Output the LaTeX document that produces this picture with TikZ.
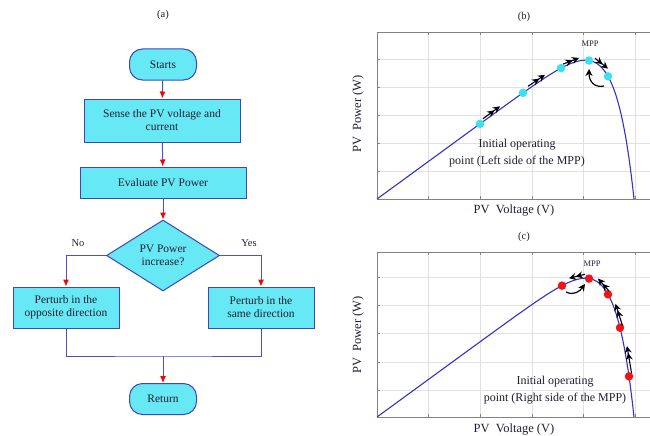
\documentclass[tikz,border=0pt]{standalone}
\usepackage{fontspec}
\setmainfont{Liberation Serif}
\usetikzlibrary{arrows.meta,shapes.geometric}
\definecolor{boxfill}{RGB}{102,232,245}
\definecolor{boxline}{RGB}{60,70,190}
\definecolor{flowline}{RGB}{80,80,200}
\definecolor{curveblue}{RGB}{50,50,200}
\definecolor{gridgray}{RGB}{225,225,225}
\definecolor{framegray}{RGB}{130,130,130}
\definecolor{dotcyan}{RGB}{60,225,240}
\definecolor{dotred}{RGB}{240,20,20}
\definecolor{txt}{RGB}{30,30,50}
\tikzset{
  procbox/.style={draw=boxline, line width=1pt, fill=boxfill, rectangle, align=center, text=txt, font=\fontsize{11.5}{13}\selectfont, inner sep=2pt},
  termbox/.style={draw=boxline, line width=1pt, fill=boxfill, rounded corners=13pt, minimum width=67pt, minimum height=31pt, text=txt, font=\fontsize{11.5}{13}\selectfont},
  decbox/.style={draw=boxline, line width=1pt, fill=boxfill, diamond, minimum width=113pt, minimum height=71pt, inner sep=0pt, align=center, text=txt, font=\fontsize{11.5}{13}\selectfont},
  flow/.style={draw=flowline, line width=1pt, -{Latex[length=7pt,width=6pt,color=red]}},
  flowplain/.style={draw=flowline, line width=1pt},
  lbl/.style={text=txt, font=\fontsize{10.5}{12}\selectfont},
  axlbl/.style={text=txt, font=\fontsize{12.5}{14}\selectfont},
  note/.style={text=txt, font=\fontsize{12}{17}\selectfont, align=center},
  mpp/.style={text=txt, font=\fontsize{8.5}{9}\selectfont},
  gridl/.style={draw=gridgray, line width=0.6pt},
  frame/.style={draw=framegray, line width=0.8pt},
  pvcurve/.style={draw=curveblue, line width=1.1pt},
  cdot/.style={circle, fill=dotcyan, inner sep=0pt, minimum size=8.5pt},
  rdot/.style={circle, fill=dotred, inner sep=0pt, minimum size=8.5pt},
  dbl/.style={draw=black, line width=1.1pt, -{Stealth[length=7pt,width=7pt]Stealth[length=7pt,width=7pt]}},
  curv/.style={draw=black, line width=1.2pt, -{Stealth[length=7pt,width=7pt]}},
  declare function={pv(\v)=0.73*\v*(1-exp((\v-257)/20));}
}
\begin{document}
\begin{tikzpicture}[x=1pt,y=-1pt]
\useasboundingbox (0,0) rectangle (650,436);
% ---------------- (a) flowchart ----------------
\node[lbl] (ta) at (163,15) {(a)};
\node[termbox] (start) at (163,64.5) {Starts};
\node[procbox, minimum width=156pt, minimum height=43pt] (sense) at (162,120.5) {Sense the PV voltage and\\current};
\node[procbox, minimum width=166pt, minimum height=31pt] (eval) at (163,182.5) {Evaluate PV Power};
\node[decbox] (dec) at (163,255.5) {PV Power\\increase?};
\node[procbox, minimum width=106pt, minimum height=41pt] (left) at (66,307.5) {Perturb in the\\opposite direction};
\node[procbox, minimum width=106pt, minimum height=41pt] (right) at (261,307.5) {Perturb in the\\same direction};
\node[termbox] (ret) at (163,399) {Return};
\node[lbl] (no) at (78,243) {No};
\node[lbl] (yes) at (249,243) {Yes};
\coordinate (merge) at (163,356);
\draw[flow] (start) -- (sense);
\draw[flow] (sense) -- (eval);
\draw[flow] (eval) -- (dec);
\draw[flow] (dec.west) -| (left.north);
\draw[flow] (dec.east) -| (right.north);
\draw[flowplain] (left.south) |- (merge) -| (right.south);
\draw[flow] (merge) -- (ret);
% ---------------- (b) plot ----------------
\node[lbl] (tb) at (524,17) {(b)};
\begin{scope}
\clip (370,20) rectangle (650,205);
\foreach \gx in {428,480,532,583,635} \draw[gridl] (\gx,32) -- (\gx,199);
\foreach \gy in {59,87,115,143,171} \draw[gridl] (377,\gy) -- (650,\gy);
\draw[frame] (650,32) -- (377,32) -- (377,199) -- (650,199);
\foreach \gx in {428,480,532,583,635} {\draw[frame] (\gx,32) -- (\gx,35); \draw[frame] (\gx,199) -- (\gx,196);}
\foreach \gy in {59,87,115,143,171} \draw[frame] (377,\gy) -- (380,\gy);
\draw[pvcurve] plot[domain=0:257, samples=160] ({377+\x},{199-pv(\x)});
\end{scope}
\node[cdot] (b1) at ({377+103},{199-pv(103)}) {};
\node[cdot] (b2) at ({377+146},{199-pv(146)}) {};
\node[cdot] (b3) at ({377+184},{199-pv(184)}) {};
\node[cdot] (b4) at ({377+212},{199-pv(212)}) {};
\node[cdot] (b5) at ({377+231},{199-pv(231)}) {};
\draw[dbl] ({377+106},{199-pv(106)-3}) -- ({377+123},{199-pv(123)-3});
\draw[dbl] ({377+151},{199-pv(151)-3}) -- ({377+168},{199-pv(168)-3});
\draw[dbl] ({377+186},{199-pv(186)-3}) -- ({377+202},{199-pv(202)-3});
\draw[dbl] ({377+215+3},{199-pv(215)-3}) -- ({377+228+3},{199-pv(228)-3});
\draw[curv] (604,86) .. controls (595,88) and (589,82) .. (589,69);
\node[mpp] (mppb) at (590,44) {MPP};
\node[note] (initb) at (517,153) {Initial operating\\point (Left side of the MPP)};
\node[axlbl, rotate=90] (ylb) at (358,114) {PV\ \ Power (W)};
\node[axlbl] (xlb) at (514,211) {PV\ \ Voltage (V)};
% ---------------- (c) plot ----------------
\node[lbl] (tc) at (524,237) {(c)};
\begin{scope}
\clip (370,240) rectangle (650,423);
\foreach \gx in {428,480,532,583,635} \draw[gridl] (\gx,252) -- (\gx,417);
\foreach \gy in {277,305,333,362,390} \draw[gridl] (377,\gy) -- (650,\gy);
\draw[frame] (650,252) -- (377,252) -- (377,417) -- (650,417);
\foreach \gx in {428,480,532,583,635} {\draw[frame] (\gx,252) -- (\gx,255); \draw[frame] (\gx,417) -- (\gx,414);}
\foreach \gy in {277,305,333,362,390} \draw[frame] (377,\gy) -- (380,\gy);
\draw[pvcurve] plot[domain=0:257, samples=160] ({377+\x},{417-pv(\x)});
\end{scope}
\node[rdot] (c1) at ({377+185},{417-pv(185)}) {};
\node[rdot] (c2) at ({377+212},{417-pv(212)}) {};
\node[rdot] (c3) at ({377+231},{417-pv(231)}) {};
\node[rdot] (c4) at ({377+243},{417-pv(243)}) {};
\node[rdot] (c5) at ({377+252},{417-pv(252)}) {};
\draw[dbl] ({377+208},{417-pv(208)-4}) -- ({377+192},{417-pv(192)-4});
\draw[curv] (566,292) .. controls (574,296) and (580,291) .. (585,284);
\draw[dbl] ({377+229+3},{417-pv(229)}) -- ({377+218+3},{417-pv(218)-2});
\draw[dbl] ({377+242.5+3},{417-pv(242.5)}) -- ({377+235.5+3},{417-pv(235.5)});
\draw[dbl] ({377+251.5+3},{417-pv(251.5)}) -- ({377+247+3},{417-pv(247)});
\node[mpp] (mppc) at (592,264) {MPP};
\node[note] (initc) at (555,390) {Initial operating\\point (Right side of the MPP)};
\node[axlbl, rotate=90] (ylc) at (358,335) {PV\ \ Power (W)};
\node[axlbl] (xlc) at (514,430) {PV\ \ Voltage (V)};
\end{tikzpicture}
\end{document}
